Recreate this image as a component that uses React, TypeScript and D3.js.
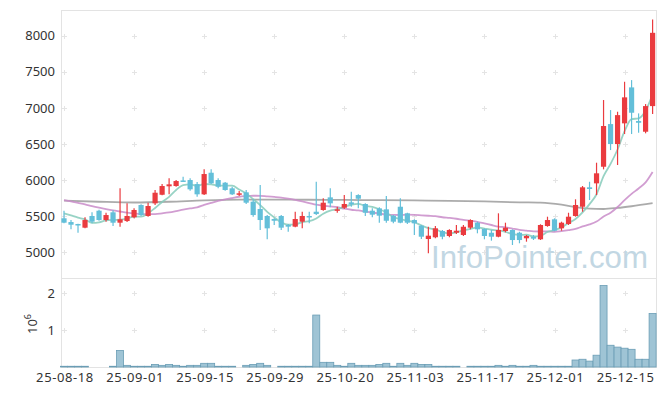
import React from "react";
import * as d3 from "d3";

// ---- data ----
const openP = [5471,5419,5392,5341,5503,5576,5447,5554,5410,5433,5485,5655,5503,5678,5797,5914,5918,5995,6001,5945,5803,6102,6001,5964,5886,5803,5831,5701,5600,5503,5461,5503,5378,5355,5424,5503,5562,5586,5761,5576,5617,5692,5793,5669,5576,5609,5595,5507,5631,5540,5447,5368,5184,5208,5295,5226,5271,5240,5341,5410,5323,5271,5216,5295,5309,5271,5194,5216,5180,5364,5457,5332,5392,5503,5631,5900,5955,6185,6776,6499,6786,7284,6818,6670,7025];
const highP = [5576,5447,5395,5485,5554,5590,5548,5581,5886,5678,5609,5664,5687,5863,5945,6025,6000,6047,6025,5973,6149,6149,6025,5973,5909,5849,5863,5734,5932,5516,5471,5516,5392,5562,5562,5562,5978,5748,5886,5631,5793,5839,5803,5678,5609,5623,5779,5516,5748,5548,5457,5378,5354,5364,5309,5318,5378,5378,5457,5424,5332,5309,5540,5410,5318,5285,5240,5240,5388,5493,5471,5424,5548,5734,5918,5977,6241,7109,6970,6947,7362,7385,6924,7053,8226];
const lowP = [5401,5318,5271,5332,5401,5438,5424,5364,5354,5420,5471,5503,5493,5655,5789,5803,5908,5977,5853,5770,5793,5946,5886,5853,5793,5779,5669,5493,5309,5180,5378,5309,5285,5346,5332,5401,5516,5576,5623,5548,5600,5631,5609,5503,5485,5410,5410,5401,5401,5392,5240,5184,4986,5194,5180,5208,5253,5226,5318,5263,5180,5161,5208,5277,5101,5125,5147,5170,5170,5354,5291,5299,5378,5493,5562,5724,5793,6149,6416,6209,6638,6638,6656,6648,6915];
const closeP = [5410,5382,5374,5447,5424,5447,5516,5410,5457,5503,5586,5516,5641,5825,5918,5941,5987,5985,5872,5803,6084,5955,5908,5863,5803,5817,5687,5516,5447,5332,5437,5341,5355,5461,5503,5493,5530,5687,5678,5595,5669,5664,5742,5548,5521,5507,5437,5424,5410,5410,5401,5216,5230,5332,5216,5309,5299,5354,5447,5318,5226,5216,5309,5341,5170,5170,5226,5189,5378,5447,5299,5410,5493,5655,5900,5877,6094,6749,6499,6900,7146,6933,6794,7025,8040];
const volume = [20000,20000,20000,20000,0,0,0,20000,450000,45000,20000,20000,20000,70000,45000,70000,45000,20000,45000,45000,100000,100000,20000,20000,20000,0,45000,70000,100000,45000,0,20000,20000,20000,20000,20000,1410000,127000,127000,45000,20000,100000,45000,45000,45000,70000,100000,20000,100000,45000,100000,70000,70000,20000,20000,20000,20000,0,20000,20000,20000,20000,45000,20000,45000,20000,20000,45000,20000,20000,20000,20000,20000,190000,210000,160000,320000,2210000,590000,540000,510000,480000,210000,210000,1450000];
// moving-average values before enough closes are available
const ma5Head = [5540,5510,5480,5455];
const ma20Head = [5722,5705,5685,5665,5640,5618,5598,5580,5565,5550,5538,5530,5528,5530,5540,5552,5570,5590,5608];
// long moving average (grey), read at sample days
const maLongIdx = [0,5,10,15,20,25,30,35,40,45,50,55,60,65,68,71,73,75,77,79,81,84];
const maLongVal = [5715,5700,5690,5700,5720,5730,5730,5728,5725,5722,5718,5712,5705,5692,5688,5660,5625,5605,5600,5615,5638,5680];
const tickIdx = [0,10,20,30,40,50,60,70,80];
const tickLabels = ["25-08-18","25-09-01","25-09-15","25-09-29","25-10-20","25-11-03","25-11-17","25-12-01","25-12-15"];
const priceTicks = [5000,5500,6000,6500,7000,7500,8000];
const volTicks = [1,2];

const RED = "#ea3b3f";
const BLUE = "#63bfd9";
const FONT = "'Noto Sans', 'DejaVu Sans', sans-serif";

export default function App() {
  const W = 665, H = 396;
  const L = 61, R = 657, T = 10, SEP = 278, B = 367;
  const n = closeP.length;
  const x = d3.scaleLinear().domain([0, n - 1]).range([64, 652.6]);
  const y = d3.scaleLinear().domain([5000, 8000]).range([252.3, 35.7]);
  const yv = d3.scaleLinear().domain([0, 2e6]).range([B, 293.3]);
  const step = x(1) - x(0);

  const ma5 = closeP.map((_, i) => (i < 4 ? ma5Head[i] : (d3.mean(closeP.slice(i - 4, i + 1)) as number)));
  const ma20 = closeP.map((_, i) => (i < 19 ? ma20Head[i] : (d3.mean(closeP.slice(i - 19, i + 1)) as number)));

  const line = d3.line<number>().x((_, i) => x(i)).y((d) => y(d)).curve(d3.curveMonotoneX);
  const lineLong = d3
    .line<number>()
    .x((_, i) => x(maLongIdx[i]))
    .y((d) => y(d))
    .curve(d3.curveMonotoneX);

  const plus = (cx: number, cy: number, k: string) => (
    <g key={k} stroke="#e4e4e4" strokeWidth={1}>
      <line x1={cx - 2.5} x2={cx + 2.5} y1={cy} y2={cy} />
      <line x1={cx} x2={cx} y1={cy - 2.5} y2={cy + 2.5} />
    </g>
  );

  return (
    <svg width={W} height={H} style={{ position: "absolute", left: 0, top: 0, background: "#fff" }} fontFamily={FONT}>
      <rect x={0} y={0} width={W} height={H} fill="#fff" />
      {/* frame */}
      <g stroke="#e3e3e3" strokeWidth={1} fill="none">
        <line x1={L} x2={R} y1={T + 0.5} y2={T + 0.5} />
        <line x1={L + 0.5} x2={L + 0.5} y1={T} y2={B} />
        <line x1={R - 0.5} x2={R - 0.5} y1={T} y2={B} />
        <line x1={L} x2={R} y1={SEP + 0.5} y2={SEP + 0.5} />
        <line x1={L} x2={R} y1={B + 0.5} y2={B + 0.5} />
      </g>
      {/* grid markers */}
      {tickIdx.map((ti) => priceTicks.map((p) => plus(Math.round(x(ti)) + 0.5, Math.round(y(p)) + 0.5, `p${ti}-${p}`)))}
      {tickIdx.map((ti) => volTicks.map((v) => plus(Math.round(x(ti)) + 0.5, Math.round(yv(v * 1e6)) + 0.5, `v${ti}-${v}`)))}
      {/* watermark */}
      <text x={648} y={268} textAnchor="end" fontSize={32} fill="#c2d7e3" fontFamily="'Liberation Sans', Arial, sans-serif" textLength={217} lengthAdjust="spacingAndGlyphs">
        InfoPointer.com
      </text>
      {/* moving averages */}
      <path d={lineLong(maLongVal) || ""} fill="none" stroke="#9c9c9c" strokeWidth={1.8} strokeOpacity={0.85} />
      <path d={line(ma20) || ""} fill="none" stroke="#c98cc9" strokeWidth={1.8} strokeOpacity={0.85} />
      <path d={line(ma5) || ""} fill="none" stroke="#86cbbb" strokeWidth={1.8} strokeOpacity={0.85} />
      {/* candles */}
      {closeP.map((c, i) => {
        const o = openP[i];
        const up = c >= o;
        const col = up ? RED : BLUE;
        const cx = x(i);
        const top = y(Math.max(o, c));
        const bot = y(Math.min(o, c));
        return (
          <g key={`c${i}`}>
            <line x1={cx} x2={cx} y1={y(highP[i])} y2={y(lowP[i])} stroke={col} strokeWidth={1.2} />
            <rect x={cx - 2.6} y={top} width={5.2} height={Math.max(1.5, bot - top)} fill={col} />
          </g>
        );
      })}
      {/* volume bars */}
      {volume.map((v, i) =>
        v > 0 ? (
          <rect
            key={`v${i}`}
            x={x(i) - step / 2}
            y={yv(v)}
            width={step}
            height={B - yv(v)}
            fill="#9fc4d5"
            stroke="#6a9db5"
            strokeWidth={0.8}
          />
        ) : null
      )}
      {/* axes labels */}
      {priceTicks.map((p) => (
        <text key={`yl${p}`} x={55} y={y(p)} dy="0.36em" textAnchor="end" fontSize={13} fill="#333">
          {p}
        </text>
      ))}
      {volTicks.map((v) => (
        <text key={`vl${v}`} x={55} y={yv(v * 1e6)} dy="0.36em" textAnchor="end" fontSize={13} fill="#333">
          {v}
        </text>
      ))}
      <text transform="translate(37,324) rotate(-90)" textAnchor="middle" fontSize={13} fill="#333">
        10<tspan dy={-6} fontSize={9}>6</tspan>
      </text>
      {tickIdx.map((ti, k) => (
        <text key={`xl${ti}`} x={x(ti) + 1} y={382} textAnchor="middle" fontSize={13} fill="#333" letterSpacing={0.6}>
          {tickLabels[k]}
        </text>
      ))}
    </svg>
  );
}
